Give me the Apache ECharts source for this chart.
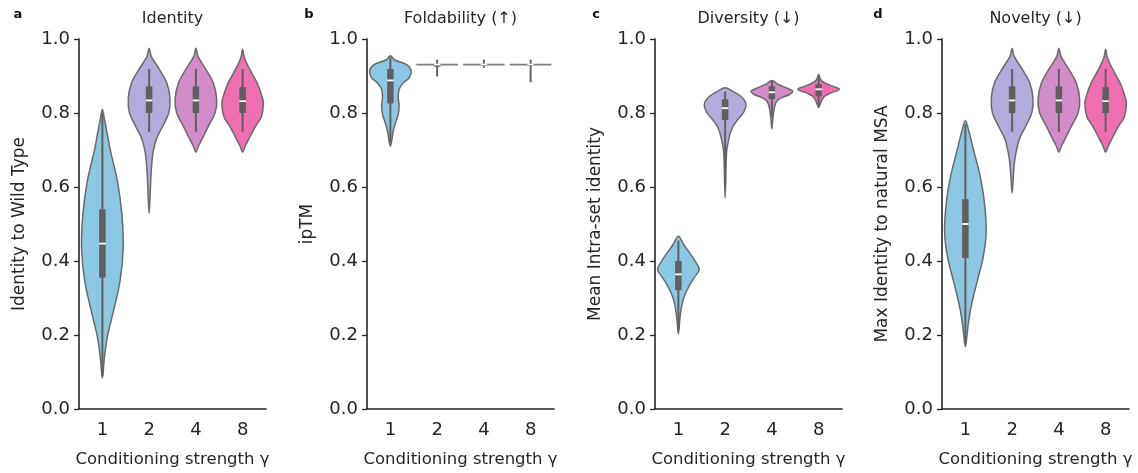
<!DOCTYPE html>
<html>
<head>
<meta charset="utf-8">
<script src="https://cdn.jsdelivr.net/npm/echarts@6/dist/echarts.min.js"></script>
<style>
  html, body { margin: 0; padding: 0; background: #ffffff; }
  #chart { width: 1138px; height: 473px; }
</style>
</head>
<body>
<div id="chart"></div>
<script>
// Conditioning strengths shown on every x axis
const categories = ['1', '2', '4', '8'];
const yTicks = [0, 0.2, 0.4, 0.6, 0.8, 1.0];

// Violin outlines: [value, relative density] from the lower tip to the upper tip
// Box stats: [whisker low, q1, median, q3, whisker high]

// a — Identity to wild type
const identityDensity = [
  [[0.083, 0], [0.14, 0.1], [0.195, 0.24], [0.257, 0.5], [0.346, 0.85], [0.435, 1.0], [0.524, 0.94], [0.614, 0.73], [0.702, 0.37], [0.748, 0.22], [0.783, 0.1], [0.81, 0]],
  [[0.529, 0], [0.58, 0.05], [0.641, 0.1], [0.694, 0.19], [0.73, 0.35], [0.765, 0.66], [0.801, 0.95], [0.841, 1.0], [0.881, 0.85], [0.917, 0.5], [0.953, 0.1], [0.975, 0]],
  [[0.694, 0], [0.71, 0.12], [0.73, 0.3], [0.765, 0.61], [0.801, 0.93], [0.837, 1.0], [0.881, 0.84], [0.917, 0.49], [0.953, 0.1], [0.975, 0]],
  [[0.694, 0], [0.71, 0.12], [0.73, 0.3], [0.765, 0.63], [0.79, 0.9], [0.825, 1.0], [0.845, 0.93], [0.881, 0.7], [0.917, 0.35], [0.95, 0.08], [0.972, 0]]
];
const identityBox = [
  [0.09, 0.355, 0.447, 0.54, 0.80],
  [0.749, 0.80, 0.834, 0.872, 0.919],
  [0.749, 0.80, 0.834, 0.872, 0.919],
  [0.749, 0.80, 0.832, 0.870, 0.919]
];

// b — Foldability (ipTM)
const foldDensity = [
  [[0.71, 0], [0.73, 0.08], [0.752, 0.14], [0.774, 0.25], [0.797, 0.38], [0.819, 0.42], [0.841, 0.38], [0.864, 0.42], [0.881, 0.62], [0.895, 0.9], [0.913, 1.0], [0.93, 0.8], [0.944, 0.19], [0.955, 0]],
  [[0.931, 1]],
  [[0.931, 1]],
  [[0.931, 1]]
];
const foldBox = [
  [0.72, 0.826, 0.888, 0.919, 0.95],
  [0.899, 0.925, 0.931, 0.931, 0.944],
  [0.922, 0.928, 0.931, 0.931, 0.944],
  [0.883, 0.928, 0.931, 0.931, 0.944]
];

// c — Diversity (mean intra-set identity)
const diversityDensity = [
  [[0.203, 0], [0.23, 0.05], [0.257, 0.1], [0.284, 0.18], [0.31, 0.32], [0.333, 0.52], [0.355, 0.76], [0.377, 1.0], [0.4, 0.8], [0.422, 0.54], [0.444, 0.26], [0.467, 0]],
  [[0.571, 0], [0.65, 0.04], [0.70, 0.08], [0.73, 0.18], [0.748, 0.26], [0.765, 0.39], [0.783, 0.62], [0.801, 0.88], [0.819, 1.0], [0.832, 0.95], [0.846, 0.74], [0.859, 0.36], [0.868, 0]],
  [[0.757, 0], [0.78, 0.04], [0.80, 0.08], [0.819, 0.14], [0.832, 0.23], [0.841, 0.46], [0.85, 0.85], [0.859, 1.0], [0.868, 0.69], [0.877, 0.31], [0.888, 0]],
  [[0.815, 0], [0.828, 0.1], [0.837, 0.17], [0.846, 0.31], [0.855, 0.62], [0.864, 1.0], [0.872, 0.69], [0.881, 0.31], [0.89, 0.1], [0.905, 0]]
];
const diversityBox = [
  [0.215, 0.321, 0.364, 0.40, 0.455],
  [0.60, 0.781, 0.813, 0.837, 0.858],
  [0.79, 0.838, 0.856, 0.872, 0.888],
  [0.82, 0.845, 0.864, 0.878, 0.90]
];

// d — Novelty (max identity to natural MSA)
const noveltyDensity = [
  [[0.168, 0], [0.195, 0.07], [0.23, 0.14], [0.275, 0.27], [0.337, 0.53], [0.409, 0.85], [0.48, 1.0], [0.56, 0.91], [0.632, 0.7], [0.694, 0.42], [0.748, 0.18], [0.779, 0]],
  [[0.584, 0], [0.62, 0.05], [0.66, 0.1], [0.694, 0.19], [0.73, 0.35], [0.765, 0.66], [0.801, 0.95], [0.841, 1.0], [0.881, 0.85], [0.917, 0.5], [0.953, 0.1], [0.975, 0]],
  [[0.694, 0], [0.71, 0.12], [0.73, 0.3], [0.765, 0.61], [0.801, 0.93], [0.837, 1.0], [0.881, 0.84], [0.917, 0.49], [0.953, 0.1], [0.975, 0]],
  [[0.694, 0], [0.71, 0.12], [0.73, 0.3], [0.765, 0.63], [0.79, 0.9], [0.825, 1.0], [0.845, 0.93], [0.881, 0.7], [0.917, 0.35], [0.95, 0.08], [0.972, 0]]
];
const noveltyBox = [
  [0.18, 0.408, 0.50, 0.567, 0.77],
  [0.749, 0.80, 0.834, 0.872, 0.919],
  [0.749, 0.80, 0.834, 0.872, 0.919],
  [0.749, 0.80, 0.832, 0.870, 0.919]
];

const panels = [
  { letter: 'a', title: 'Identity', ylabel: 'Identity to Wild Type', density: identityDensity, box: identityBox },
  { letter: 'b', title: 'Foldability (↑)', ylabel: 'ipTM', density: foldDensity, box: foldBox },
  { letter: 'c', title: 'Diversity (↓)', ylabel: 'Mean Intra-set identity', density: diversityDensity, box: diversityBox },
  { letter: 'd', title: 'Novelty (↓)', ylabel: 'Max Identity to natural MSA', density: noveltyDensity, box: noveltyBox }
];

const violinColors = ['#8cc8e1', '#b1acd9', '#d28cc7', '#f06fb1'];
const FONT = 'DejaVu Sans';
const INK = '#262626';
const OUTLINE = '#6a6a6a';
const INNER = '#5f5f5f';

const gridLefts = [79, 367, 655, 942];
const letterX = [18, 309, 596, 878];
const gridWidth = 187;
const gridTop = 39;
const gridHeight = 374;

function makeRenderer(density, boxes) {
  return function (params, api) {
    const i = api.value(0);
    const band = api.size([1, 0])[0];
    const half = band * 0.445;
    const cx = api.coord([i, 0])[0];
    const y = v => api.coord([i, v])[1];
    const prof = density[i];
    const kids = [];
    if (prof.length > 1) {
      const right = prof.map(([v, d]) => [cx + d * half, y(v)]);
      const left = prof.slice(1, -1).reverse().map(([v, d]) => [cx - d * half, y(v)]);
      kids.push({
        type: 'polygon',
        shape: { points: right.concat(left), smooth: 0.35 },
        style: { fill: violinColors[i], stroke: OUTLINE, lineWidth: 1.5 }
      });
    } else {
      // all samples share one value: the violin collapses to a flat line
      const yy = y(prof[0][0]);
      kids.push({
        type: 'line',
        shape: { x1: cx - half, y1: yy, x2: cx + half, y2: yy },
        style: { stroke: '#7d7d7d', lineWidth: 1.7 }
      });
    }
    const [lo, q1, med, q3, hi] = boxes[i];
    const bw = 6.5;
    kids.push({ type: 'line', shape: { x1: cx, y1: y(lo), x2: cx, y2: y(hi) }, style: { stroke: INNER, lineWidth: 2 } });
    kids.push({ type: 'rect', shape: { x: cx - bw / 2, y: y(q3), width: bw, height: Math.max(y(q1) - y(q3), 0.5) }, style: { fill: INNER } });
    kids.push({ type: 'line', shape: { x1: cx - bw / 2, y1: y(med), x2: cx + bw / 2, y2: y(med) }, style: { stroke: '#ffffff', lineWidth: 1.8 } });
    return { type: 'group', children: kids };
  };
}

const grid = [], xAxis = [], yAxis = [], series = [], graphic = [];
panels.forEach((p, k) => {
  grid.push({ left: gridLefts[k], top: gridTop, width: gridWidth, height: gridHeight });
  xAxis.push({
    type: 'category', gridIndex: k, data: categories, boundaryGap: true,
    axisLine: { lineStyle: { color: INK, width: 1.6 } },
    axisTick: { alignWithLabel: true, length: 5, lineStyle: { color: INK, width: 1.3 } },
    axisLabel: { fontFamily: FONT, fontSize: 18, color: INK, margin: 12 },
    name: 'Conditioning strength γ', nameLocation: 'middle', nameGap: 42,
    nameTextStyle: { fontFamily: FONT, fontSize: 16.5, color: INK },
    splitLine: { show: false }
  });
  yAxis.push({
    type: 'value', gridIndex: k, min: 0, max: 1, interval: 0.2,
    axisLine: { show: true, lineStyle: { color: INK, width: 1.6 } },
    axisTick: { show: true, length: 5, lineStyle: { color: INK, width: 1.3 } },
    axisLabel: {
      fontFamily: FONT, fontSize: 18, color: INK, margin: 9,
      customValues: yTicks, formatter: v => v.toFixed(1)
    },
    name: p.ylabel, nameLocation: 'middle', nameGap: 51, nameRotate: 90,
    nameTextStyle: { fontFamily: FONT, fontSize: 17, color: INK },
    splitLine: { show: false }
  });
  series.push({
    type: 'custom', xAxisIndex: k, yAxisIndex: k,
    renderItem: makeRenderer(p.density, p.box),
    encode: { x: 0, y: 1 },
    data: categories.map((c, i) => [i, p.box[i][2]]),
    silent: true, clip: false
  });
  // panel title above the plot area
  graphic.push({
    type: 'text', x: gridLefts[k] + gridWidth / 2, y: 19,
    style: { text: p.title, fontFamily: FONT, fontSize: 16, fill: INK, align: 'center', verticalAlign: 'middle' }
  });
  // panel letter
  graphic.push({
    type: 'text', x: letterX[k], y: 15,
    style: { text: p.letter, fontFamily: FONT, fontSize: 13, fontWeight: 'bold', fill: '#111', align: 'center', verticalAlign: 'middle' }
  });
});

const chart = echarts.init(document.getElementById('chart'), null, { renderer: 'canvas' });
chart.setOption({
  animation: false,
  backgroundColor: '#ffffff',
  grid, xAxis, yAxis, series, graphic
});
</script>
</body>
</html>
